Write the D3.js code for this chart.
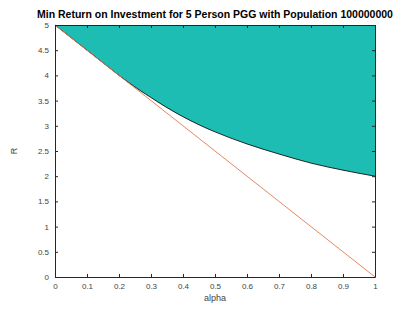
<!DOCTYPE html>
<html>
<head>
<meta charset="utf-8">
<script src="https://d3js.org/d3.v7.min.js"></script>
<style>
  body { margin: 0; background: #fff; }
  svg { font-family: "Liberation Sans", Arial, sans-serif; }
  .axis path, .axis line { stroke: #262626; }
  .axis text { fill: #444; font-size: 8px; }
  .title { font-size: 10.5px; font-weight: bold; fill: #000; }
  .lbl { font-size: 9px; fill: #444; }
</style>
</head>
<body>
<div id="chart"></div>
<script>

// values
var alphaVals = [0, 0.05, 0.1, 0.15, 0.2, 0.25, 0.3, 0.35, 0.4, 0.45, 0.5, 0.6, 0.7, 0.8, 0.9, 1];
var minR = [5, 4.75, 4.5, 4.25, 4.0, 3.77, 3.56, 3.36, 3.18, 3.02, 2.88, 2.64, 2.44, 2.26, 2.12, 2.0];
var lineAlpha = [0, 1];
var lineR = [5, 0];
var xTicks = [0, 0.1, 0.2, 0.3, 0.4, 0.5, 0.6, 0.7, 0.8, 0.9, 1];
var yTicks = [0, 0.5, 1, 1.5, 2, 2.5, 3, 3.5, 4, 4.5, 5];

var margin = { left: 55, right: 40, top: 25, bottom: 36 };
var width = 415 - margin.left - margin.right;
var height = 313 - margin.top - margin.bottom;

var svg = d3.select("#chart")
    .append("svg")
    .attr("width", 415)
    .attr("height", 313)
    .append("g")
    .attr("transform", "translate(" + margin.left + "," + margin.top + ")");

var x = d3.scaleLinear().domain([0, 1]).range([0, width]);
var y = d3.scaleLinear().domain([0, 5]).range([height, 0]);

var curve = alphaVals.map(function (a, i) { return { a: a, r: minR[i] }; });
var diag = lineAlpha.map(function (a, i) { return { a: a, r: lineR[i] }; });

// teal region above the min R curve
var area = d3.area()
    .x(function (d) { return x(d.a); })
    .y0(y(5))
    .y1(function (d) { return y(d.r); })
    .curve(d3.curveMonotoneX);

svg.append("path")
    .datum(curve)
    .attr("d", area)
    .attr("fill", "#1dbdb3");

var line = d3.line()
    .x(function (d) { return x(d.a); })
    .y(function (d) { return y(d.r); })
    .curve(d3.curveMonotoneX);

svg.append("path")
    .datum(curve)
    .attr("d", line)
    .attr("fill", "none")
    .attr("stroke", "#111")
    .attr("stroke-width", 0.9);

svg.append("path")
    .datum(diag)
    .attr("d", line)
    .attr("fill", "none")
    .attr("stroke", "#e07a50")
    .attr("stroke-width", 0.9);

// axes, ticks inside like matlab
svg.append("g")
    .attr("class", "axis")
    .attr("transform", "translate(0," + height + ")")
    .call(d3.axisBottom(x).tickValues(xTicks).tickSizeInner(-3).tickSizeOuter(0).tickPadding(6)
        .tickFormat(d3.format("")));

svg.append("g")
    .attr("class", "axis")
    .call(d3.axisLeft(y).tickValues(yTicks).tickSizeInner(-3).tickSizeOuter(0).tickPadding(6)
        .tickFormat(d3.format("")));

svg.append("g")
    .attr("class", "axis")
    .call(d3.axisTop(x).tickValues(xTicks).tickSizeInner(-3).tickSizeOuter(0).tickFormat(""))
    .select(".domain").attr("stroke", "#888");

svg.append("g")
    .attr("class", "axis")
    .attr("transform", "translate(" + width + ",0)")
    .call(d3.axisRight(y).tickValues(yTicks).tickSizeInner(-3).tickSizeOuter(0).tickFormat(""))
    .select(".domain").attr("stroke", "#888");

svg.append("text")
    .attr("class", "title")
    .attr("x", width / 2)
    .attr("y", -7)
    .style("text-anchor", "middle")
    .text("Min Return on Investment for 5 Person PGG with Population 100000000");

svg.append("text")
    .attr("class", "lbl")
    .attr("x", width / 2)
    .attr("y", height + 24)
    .style("text-anchor", "middle")
    .text("alpha");

svg.append("text")
    .attr("class", "lbl")
    .attr("transform", "rotate(-90)")
    .attr("x", -height / 2)
    .attr("y", -38)
    .style("text-anchor", "middle")
    .text("R");

</script>
</body>
</html>
